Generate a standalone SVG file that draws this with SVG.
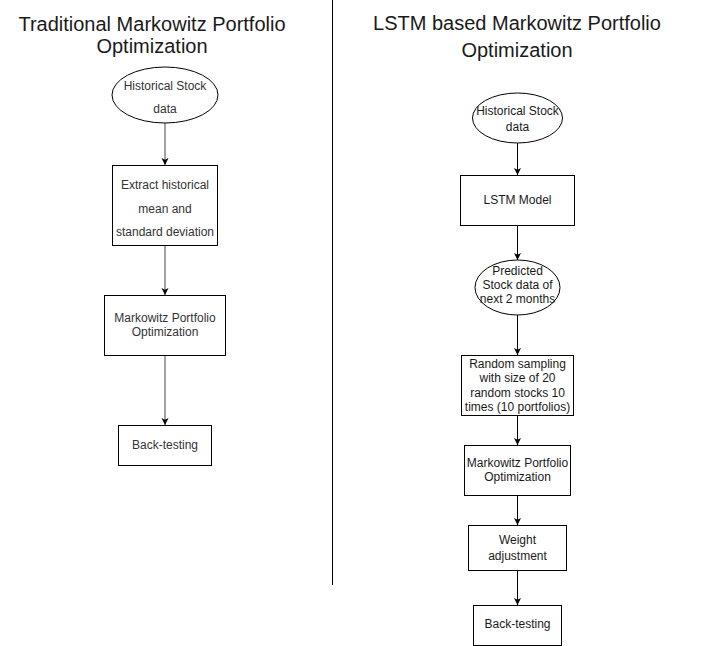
<svg xmlns="http://www.w3.org/2000/svg" width="704" height="646" viewBox="0 0 704 646">
<style>
.t{font-family:"Liberation Sans",Arial,sans-serif;font-size:20px;fill:#1a1a1a;text-anchor:middle}
.l{font-family:"Liberation Sans",Arial,sans-serif;font-size:12px;fill:#333;text-anchor:middle;dominant-baseline:central}
.r{font-family:"Liberation Sans",Arial,sans-serif;font-size:12px;fill:#1a1a1a;text-anchor:middle;dominant-baseline:central}
.n{fill:#fff;stroke:#000;stroke-width:1}
.cg{stroke:#666;stroke-width:1.2;fill:none}
.cb{stroke:#000;stroke-width:1;fill:none}
</style>
<defs>
<marker id="ah" markerWidth="8" markerHeight="8" refX="7" refY="4" orient="auto" markerUnits="userSpaceOnUse">
<path d="M0,0.5 L7,4 L0,7.5 L1.8,4 Z" fill="#000"/>
</marker>
</defs>
<rect width="704" height="646" fill="#fff"/>
<g id="titles">
<text class="t" x="152" y="31">Traditional Markowitz Portfolio</text>
<text class="t" x="152" y="53">Optimization</text>
<text class="t" x="517" y="30">LSTM based Markowitz Portfolio</text>
<text class="t" x="517" y="57">Optimization</text>
</g>
<line id="divider" x1="332.5" y1="0" x2="332.5" y2="585" stroke="#000" stroke-width="1"/>
<g id="connectors">
<line class="cg" x1="165" y1="123" x2="165" y2="165" marker-end="url(#ah)"/>
<line class="cg" x1="165" y1="245" x2="165" y2="295" marker-end="url(#ah)"/>
<line class="cg" x1="165" y1="355" x2="165" y2="425" marker-end="url(#ah)"/>
<line class="cb" x1="517.5" y1="143" x2="517.5" y2="175" marker-end="url(#ah)"/>
<line class="cb" x1="517.5" y1="225" x2="517.5" y2="260" marker-end="url(#ah)"/>
<line class="cb" x1="517.5" y1="315" x2="517.5" y2="355" marker-end="url(#ah)"/>
<line class="cb" x1="517.5" y1="415" x2="517.5" y2="445" marker-end="url(#ah)"/>
<line class="cb" x1="517.5" y1="495" x2="517.5" y2="525" marker-end="url(#ah)"/>
<line class="cb" x1="517.5" y1="570" x2="517.5" y2="605" marker-end="url(#ah)"/>
</g>
<g id="l-hist">
<ellipse class="n" cx="165" cy="95" rx="53" ry="28"/>
<text class="l" x="165" y="86">Historical Stock</text>
<text class="l" x="165" y="109">data</text>
</g>
<g id="l-extract">
<rect class="n" x="112.5" y="165.5" width="105" height="80"/>
<text class="l" x="165" y="185">Extract historical</text>
<text class="l" x="165" y="209">mean and</text>
<text class="l" x="165" y="232">standard deviation</text>
</g>
<g id="l-mpo">
<rect class="n" x="104.5" y="295.5" width="121" height="60"/>
<text class="l" x="165" y="318">Markowitz Portfolio</text>
<text class="l" x="165" y="332">Optimization</text>
</g>
<g id="l-back">
<rect class="n" x="118.5" y="425.5" width="93" height="40"/>
<text class="l" x="165" y="445">Back-testing</text>
</g>
<g id="r-hist">
<ellipse class="n" cx="517.5" cy="118" rx="45" ry="25"/>
<text class="r" x="517.5" y="111">Historical Stock</text>
<text class="r" x="517.5" y="127">data</text>
</g>
<g id="r-lstm">
<rect class="n" x="460.5" y="175.5" width="114" height="50"/>
<text class="r" x="517.5" y="200">LSTM Model</text>
</g>
<g id="r-pred">
<ellipse class="n" cx="517.5" cy="287.5" rx="42.5" ry="27.5"/>
<text class="r" x="517.5" y="271">Predicted</text>
<text class="r" x="517.5" y="285">Stock data of</text>
<text class="r" x="517.5" y="299">next 2 months</text>
</g>
<g id="r-random">
<rect class="n" x="461.5" y="355.5" width="112" height="60"/>
<text class="r" x="517.5" y="364">Random sampling</text>
<text class="r" x="517.5" y="378">with size of 20</text>
<text class="r" x="517.5" y="393">random stocks 10</text>
<text class="r" x="517.5" y="407">times (10 portfolios)</text>
</g>
<g id="r-mpo">
<rect class="n" x="464.5" y="445.5" width="106" height="50"/>
<text class="r" x="517.5" y="463">Markowitz Portfolio</text>
<text class="r" x="517.5" y="477">Optimization</text>
</g>
<g id="r-weight">
<rect class="n" x="468.5" y="525.5" width="98" height="45"/>
<text class="r" x="517.5" y="540">Weight</text>
<text class="r" x="517.5" y="556">adjustment</text>
</g>
<g id="r-back">
<rect class="n" x="473.5" y="605.5" width="88" height="40"/>
<text class="r" x="517.5" y="624">Back-testing</text>
</g>
</svg>
